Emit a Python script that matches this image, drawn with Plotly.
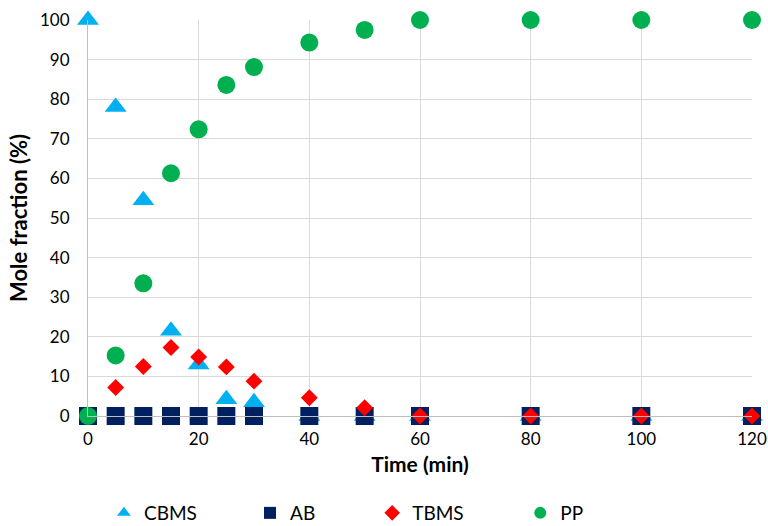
import plotly.graph_objects as go

time_min = [0, 5, 10, 15, 20, 25, 30, 40, 50, 60, 80, 100, 120]
cbms = [100, 78, 54.5, 21.5, 13, 4.2, 3.5, 0, 0, 0, 0, 0, 0]
ab = [0, 0, 0, 0, 0, 0, 0, 0, 0, 0, 0, 0, 0]
tbms = [0, 7.2, 12.5, 17.3, 14.9, 12.4, 8.8, 4.6, 2.1, 0, 0, 0, 0]
pp = [0, 15.3, 33.5, 61.3, 72.4, 83.6, 88.1, 94.3, 97.5, 100, 100, 100, 100]

series_names = ["CBMS", "AB", "TBMS", "PP"]
series_values = [cbms, ab, tbms, pp]
symbols = ["triangle-up", "square", "diamond", "circle"]
colors = ["#00B0F0", "#002060", "#FF0000", "#00B050"]
sizes = [19, 18, 13, 18]
legend_x = [0.024, 0.244, 0.428, 0.651]

FONT = "Lato, Calibri, 'Open Sans', sans-serif"

fig = go.Figure()
for i, (name, vals) in enumerate(zip(series_names, series_values)):
    fig.add_trace(go.Scatter(
        x=time_min, y=vals, mode="markers", name=name,
        marker=dict(symbol=symbols[i], color=colors[i], size=sizes[i], line=dict(width=0)),
        cliponaxis=False,
        legend="legend" if i == 0 else f"legend{i+1}",
    ))

legend_common = dict(
    orientation="h", yanchor="middle", y=-0.245, xanchor="left",
    font=dict(family=FONT, size=19, color="#000000"),
    bgcolor="rgba(0,0,0,0)", itemsizing="constant",
)
layout_legends = {}
for i in range(4):
    key = "legend" if i == 0 else f"legend{i+1}"
    layout_legends[key] = dict(legend_common, x=legend_x[i])

fig.update_layout(
    width=768, height=526,
    margin=dict(l=88, r=16, t=20, b=110, autoexpand=False),
    paper_bgcolor="white", plot_bgcolor="white",
    font=dict(family=FONT, size=17, color="#000000"),
    showlegend=True,
    **layout_legends,
)
fig.update_xaxes(
    range=[0, 120], dtick=20, tick0=0, automargin=False,
    showgrid=True, gridcolor="#D9D9D9", gridwidth=1,
    showline=True, linecolor="#BFBFBF", linewidth=1,
    zeroline=False,
    ticks="outside", ticklen=8, tickcolor="rgba(0,0,0,0)",
    tickfont=dict(family=FONT, size=17),
    title=dict(text="<b>Time (min)</b>", font=dict(family=FONT, size=21), standoff=8),
)
fig.update_yaxes(
    range=[0, 100], dtick=10, tick0=0, automargin=False,
    showgrid=True, gridcolor="#D9D9D9", gridwidth=1,
    showline=True, linecolor="#BFBFBF", linewidth=1,
    zeroline=False,
    ticks="outside", ticklen=14, tickcolor="rgba(0,0,0,0)",
    tickfont=dict(family=FONT, size=17),
    title=dict(text="<b>Mole fraction (%)</b>", font=dict(family=FONT, size=22), standoff=6),
)

fig.write_html(
    "out.html",
    config={"displayModeBar": False},
    post_script="document.body.style.margin='0';document.body.style.overflow='hidden';",
)
